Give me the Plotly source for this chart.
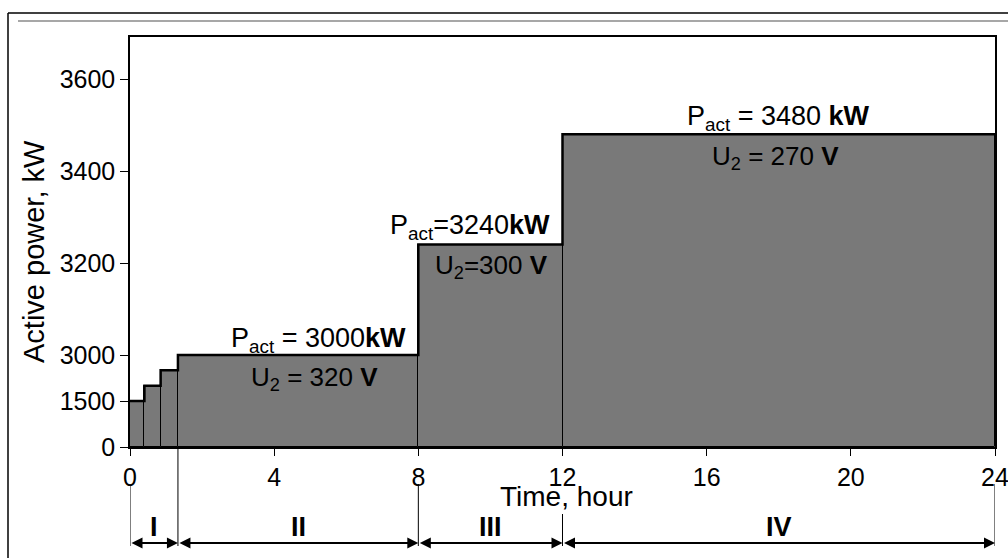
import plotly.graph_objects as go

# ---- data ----
step_start = [0, 0.4, 0.85, 1.33, 8, 12]
step_end = [0.4, 0.85, 1.33, 8, 12, 24]
power_kw = [1500, 2000, 2500, 3000, 3240, 3480]

y_tick_values = [0, 1500, 3000, 3200, 3400, 3600]
x_tick_values = [0, 4, 8, 12, 16, 20, 24]

stage_bounds = [0, 1.33, 8, 12, 24]
stage_labels = ["I", "II", "III", "IV"]

labels_p = ["P<sub>act</sub> = 3000<b>kW</b>", "P<sub>act</sub>=3240<b>kW</b>", "P<sub>act</sub> = 3480 <b>kW</b>"]
labels_u = ["U<sub>2</sub> = 320 <b>V</b>", "U<sub>2</sub>=300 <b>V</b>", "U<sub>2</sub> = 270 <b>V</b>"]


# broken y axis: 0-3000 compressed (1500 per unit), above 3000 100 per unit
def disp(v):
    return v / 1500.0 if v <= 3000 else 2.0 + (v - 3000) / 100.0


FONT = "Arial, Liberation Sans, sans-serif"
GRAY = "#797979"

L, R, T, B = 130, 13, 37, 111
W, H = 1008, 558
PW, PH = W - L - R, H - T - B


def px2paper_x(px):
    return (px - L) / PW


def px2paper_y(py):
    return (H - B - py) / PH


fig = go.Figure()

widths = [e - s for s, e in zip(step_start, step_end)]
mids = [s + w / 2 for s, w in zip(step_start, widths)]
fig.add_trace(go.Bar(
    x=mids, y=[disp(p) for p in power_kw], width=widths,
    marker=dict(color=GRAY, line=dict(color="black", width=1)),
    hoverinfo="skip", showlegend=False,
))

# thick top outline
fig.add_trace(go.Scatter(
    x=step_start + [step_end[-1]],
    y=[disp(p) for p in power_kw] + [disp(power_kw[-1])],
    mode="lines", line=dict(color="black", width=2.5, shape="hv"),
    hoverinfo="skip", showlegend=False,
))

ann = []
# power / voltage labels
p_pos = [(5.24, 2.33), (9.43, 4.78), (18.0, 7.15)]
u_pos = [(5.13, 1.5), (10.02, 3.93), (17.9, 6.3)]
for txt, (x, y) in zip(labels_p, p_pos):
    ann.append(dict(x=x, y=y, xref="x", yref="y", text=txt, showarrow=False,
                    xanchor="center", yanchor="middle",
                    font=dict(family=FONT, size=27, color="black")))
for txt, (x, y) in zip(labels_u, u_pos):
    ann.append(dict(x=x, y=y, xref="x", yref="y", text=txt, showarrow=False,
                    xanchor="center", yanchor="middle",
                    font=dict(family=FONT, size=26, color="black")))

# axis titles
ann.append(dict(x=12.1, y=px2paper_y(496), xref="x", yref="paper", text="Time, hour",
                xanchor="center", yanchor="middle",
                showarrow=False, font=dict(family=FONT, size=28, color="black")))
ann.append(dict(x=px2paper_x(34), y=px2paper_y(252), xref="paper", yref="paper",
                text="Active power, kW", textangle=-90, showarrow=False,
                xanchor="center", yanchor="middle",
                font=dict(family=FONT, size=29, color="black")))

# stage arrows and labels
y_arrow = px2paper_y(543)
for a, b, lab in zip(stage_bounds[:-1], stage_bounds[1:], stage_labels):
    ann.append(dict(x=b, y=y_arrow, xref="x", yref="paper", ax=a, ay=0,
                    axref="x", ayref="pixel", text="", showarrow=True,
                    arrowside="end+start", arrowhead=2, arrowsize=1.1, arrowwidth=2,
                    arrowcolor="black", standoff=0, startstandoff=0))
    ann.append(dict(x=(a + b) / 2, y=px2paper_y(527), xref="x", yref="paper",
                    text="<b>%s</b>" % lab, showarrow=False,
                    xanchor="center", yanchor="middle",
                    font=dict(family=FONT, size=27, color="black")))

shapes = []
# vertical guide lines below axis
line_tops = {0: 484, 1.33: 447, 8: 484, 12: 514, 24: 484}
for xv in stage_bounds:
    shapes.append(dict(type="line", xref="x", yref="paper", x0=xv, x1=xv,
                       y0=px2paper_y(line_tops[xv]), y1=px2paper_y(546),
                       line=dict(color="black", width=1)))

# outer frame
shapes.append(dict(type="line", xref="paper", yref="paper",
                   x0=px2paper_x(8), x1=px2paper_x(1010), y0=px2paper_y(13), y1=px2paper_y(13),
                   line=dict(color="black", width=1.5)))
shapes.append(dict(type="line", xref="paper", yref="paper",
                   x0=px2paper_x(8), x1=px2paper_x(8), y0=px2paper_y(13), y1=px2paper_y(560),
                   line=dict(color="black", width=1.5)))
shapes.append(dict(type="line", xref="paper", yref="paper",
                   x0=px2paper_x(18), x1=px2paper_x(1010), y0=px2paper_y(21), y1=px2paper_y(21),
                   line=dict(color="#8a8a8a", width=1.5)))

fig.update_layout(
    width=W, height=H,
    margin=dict(l=L, r=R, t=T, b=B, pad=0, autoexpand=False),
    paper_bgcolor="white", plot_bgcolor="white",
    bargap=0, showlegend=False,
    annotations=ann, shapes=shapes,
    font=dict(family=FONT, color="black"),
)
fig.update_xaxes(
    range=[0, 24], tickvals=x_tick_values, ticktext=[str(v) for v in x_tick_values],
    ticks="outside", ticklen=7, tickwidth=1, tickcolor="black",
    showline=True, linecolor="black", linewidth=1.5, mirror=True,
    showgrid=False, zeroline=False, ticklabeloverflow="allow", automargin=False,
    tickfont=dict(family=FONT, size=25, color="black"),
)
fig.update_yaxes(
    range=[0, PH / 46.0], tickvals=[disp(v) for v in y_tick_values],
    ticktext=[str(v) for v in y_tick_values],
    ticks="outside", ticklen=8, tickwidth=1, tickcolor="black",
    showline=True, linecolor="black", linewidth=1.5, mirror=True,
    showgrid=False, zeroline=False, automargin=False,
    tickfont=dict(family=FONT, size=25, color="black"),
)

fig.write_html("out.html", config={"displayModeBar": False},
               post_script="document.body.style.margin='0';document.body.style.overflow='hidden';")
